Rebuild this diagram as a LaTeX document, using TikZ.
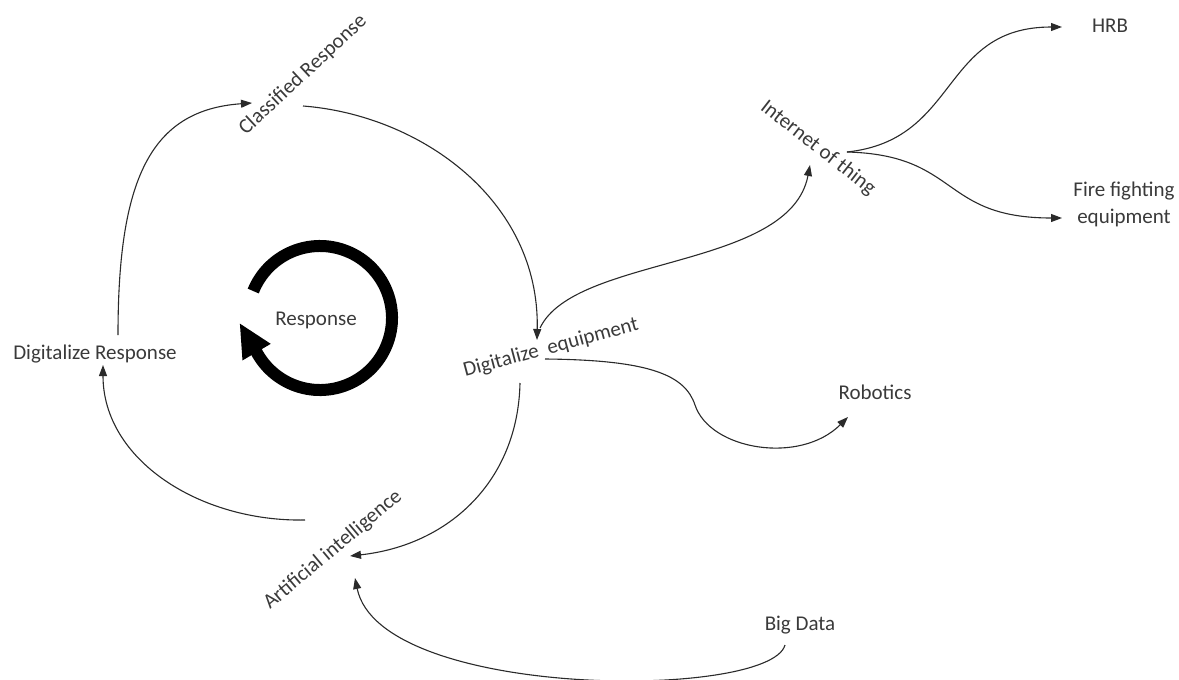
\documentclass[tikz,border=0pt]{standalone}
\usepackage{fontspec}
\setmainfont{Carlito}
\usetikzlibrary{arrows.meta}
\definecolor{txt}{HTML}{3A3A3A}
\definecolor{ln}{HTML}{2A2A2A}
\tikzset{
  lbl/.style={inner sep=0pt, text=txt, font=\fontsize{21}{27}\selectfont},
  conn/.style={draw=ln, line width=1.1pt, -{Triangle[length=11pt,width=8pt]}},
  plain/.style={draw=ln, line width=1.1pt},
}
\begin{document}
\begin{tikzpicture}[x=1pt,y=-1pt]
\useasboundingbox (0,0) rectangle (1179,680);
% nodes
\node[lbl] (resp) at (316,320) {Response};
\node[lbl, rotate=43] (cr) at (303,75) {Classified Response};
\node[lbl] (dr) at (95,354) {Digitalize Response};
\node[lbl, rotate=15] (de) at (551,348) {Digitalize\ \ equipment};
\node[lbl, rotate=-38] (iot) at (818,148) {Internet of thing};
\node[lbl] (hrb) at (1110,26) {HRB};
\node[lbl, align=center] (ffe) at (1124,204) {Fire fighting\\equipment};
\node[lbl] (rob) at (875,392) {Robotics};
\node[lbl, rotate=40] (ai) at (333,550) {Artificial intelligence};
\node[lbl] (bd) at (800,625) {Big Data};
% cycle arrow
\draw[line width=12pt, black, -{Triangle[length=34pt,width=30pt]}]
  ([shift={(202:72)}]resp.center) ++(4,-2) arc[start angle=202, end angle=512, radius=72] -- ++(-17,-29);
% connectors
\draw[conn] ([shift={(23,-19)}]dr.center) .. controls +(0,-155) and +(-102,7) .. ([shift={(-51,28)}]cr.center);
\draw[conn] ([shift={(0,31)}]cr.center) .. controls +(117,9) and +(3,-140) .. ([shift={(-14,-8)}]de.center);
\draw[conn] ([shift={(-11,-20)}]de.center) .. controls +(35,-73) and +(-20,105) .. ([shift={(-8,17)}]iot.center);
\draw[conn] ([shift={(29,4)}]iot.center) .. controls +(113,-12) and +(-122,0) .. ([shift={(-48,1)}]hrb.center);
\draw[conn] ([shift={(29,4)}]iot.center) .. controls +(113,3) and +(-122,0) .. ([shift={(-62,14)}]ffe.center);
\draw[conn] ([shift={(-6,11)}]de.center) .. controls +(105,1) and +(-10,-30) .. (695,405) .. controls +(15,45) and +(-48,48) .. ([shift={(-27,25)}]rob.center);
\draw[conn] ([shift={(-31,35)}]de.center) .. controls +(-2,97) and +(100,-11) .. ([shift={(17,6)}]ai.center);
\draw[conn] ([shift={(-28,-30)}]ai.center) .. controls +(-105,2) and +(0,95) .. ([shift={(8,11)}]dr.center);
\draw[conn] ([shift={(-15,20)}]bd.center) .. controls +(-15,55) and +(25,122) .. ([shift={(22,28)}]ai.center);
\end{tikzpicture}
\end{document}
